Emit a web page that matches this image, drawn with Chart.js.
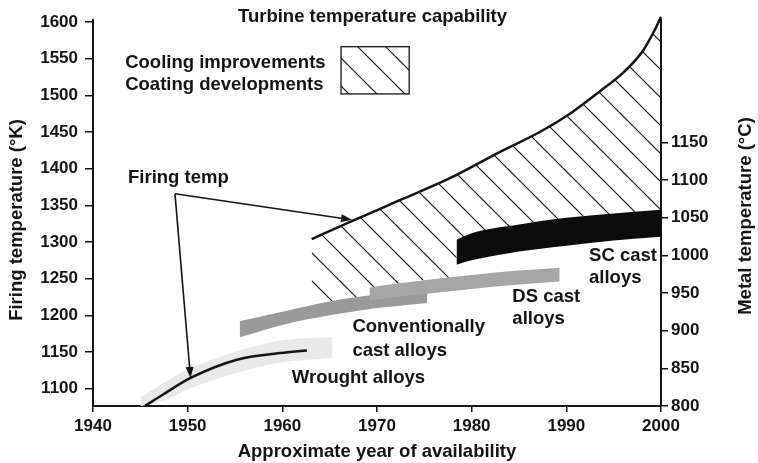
<!DOCTYPE html>
<html>
<head>
<meta charset="utf-8">
<script src="https://cdn.jsdelivr.net/npm/chart.js@4.4.1/dist/chart.umd.min.js"></script>
<style>
  html, body { margin: 0; padding: 0; background: #fff; }
  canvas { display: block; }
</style>
</head>
<body>
<canvas id="myChart" width="758" height="463"></canvas>
<script>
// axis ticks
var yearTicks = [1940, 1950, 1960, 1970, 1980, 1990, 2000];
var kelvinTicks = [1100, 1150, 1200, 1250, 1300, 1350, 1400, 1450, 1500, 1550, 1600];
var celsiusTicks = [800, 850, 900, 950, 1000, 1050, 1100, 1150];

// firing temperature line (K)
var firingYears = [1945.5, 1947.4, 1950.3, 1955.2, 1959.8, 1962.6];
var firingTemp = [1076.5, 1092, 1114.6, 1139.5, 1148.6, 1152.2];

// wrought alloys band
var wroughtYears = [1945, 1947.5, 1950, 1955, 1960, 1965.3];
var wroughtTop = [1088, 1108, 1126, 1150, 1166, 1170];
var wroughtLow = [1076, 1084, 1099, 1121, 1136, 1142];

// conventionally cast alloys band
var convYears = [1955.5, 1960, 1965, 1970, 1975.3];
var convTop = [1192, 1205, 1219, 1228, 1233];
var convLow = [1170, 1187, 1200, 1210, 1217];

// DS cast alloys band
var dsYears = [1969.2, 1972, 1975, 1980, 1985, 1989.3];
var dsTop = [1238, 1243, 1248, 1255, 1261, 1265];
var dsLow = [1220, 1225, 1229, 1236, 1242, 1246];

// SC cast alloys band
var scYears = [1978.4, 1980, 1985, 1990, 1995, 2000];
var scTop = [1303, 1312, 1324, 1333, 1339, 1344];
var scLow = [1269, 1275, 1287, 1295, 1302, 1307];

// cooling / coating capability (hatched area)
var capYears = [1963.1, 1967.1, 1972.4, 1977.7, 1983.0, 1987.2, 1990.5, 1993.5, 1996.1, 1998.0, 1999.3, 2000];
var capTop = [1304, 1327, 1357, 1387, 1423, 1450, 1476, 1505, 1532, 1559, 1588, 1607];
var capFloorYears = [1963.1, 1965, 1969.2, 1969.2, 1972, 1975, 1978.4, 1978.4, 1980, 1985, 1990, 1995, 2000];
var capFloor = [1213, 1219, 1227, 1238, 1243, 1248, 1253, 1303, 1312, 1324, 1333, 1339, 1344];

// text labels [text, year, K (baseline)]
var notes = [
  ["Cooling improvements", 1943.4, 1537],
  ["Coating developments", 1943.4, 1507],
  ["Firing temp", 1943.7, 1380.6],
  ["Conventionally", 1967.4, 1177.7],
  ["cast alloys", 1967.4, 1145],
  ["Wrought alloys", 1961.0, 1108.2],
  ["DS cast", 1984.3, 1218.5],
  ["alloys", 1984.3, 1188.6],
  ["SC cast", 1992.4, 1274.4],
  ["alloys", 1992.4, 1244.4]
];
var legendBox = [1966.2, 1566.3, 1973.4, 1501.9];
var arrowFrom = [1948.66, 1365.7];
var arrowTips = [[1967.36, 1330.2], [1950.3, 1114.6]];

var FONT = '"Liberation Sans", Arial, Helvetica, sans-serif';
var INK = "#141414";

function pts(xs, ys) {
  return xs.map(function (x, i) { return { x: x, y: ys[i] }; });
}

var ctx = document.getElementById("myChart").getContext("2d");

function makeHatch() {
  var s = 28;
  var c = document.createElement("canvas");
  c.width = s;
  c.height = s;
  var g = c.getContext("2d");
  g.strokeStyle = "#1a1a1a";
  g.lineWidth = 1.2;
  g.beginPath();
  for (var k = -1; k <= 0; k++) {
    g.moveTo(3 + k * s, 0);
    g.lineTo(3 + k * s + s, s);
  }
  g.stroke();
  return ctx.createPattern(c, "repeat");
}
var hatch = makeHatch();
var none = "rgba(0,0,0,0)";

function edge(xs, ys, order) {
  return { data: pts(xs, ys), borderColor: none, borderWidth: 0, fill: false, order: order, cubicInterpolationMode: "monotone" };
}
function band(xs, ys, color, order) {
  return { data: pts(xs, ys), borderColor: none, borderWidth: 0, backgroundColor: color, fill: "-1", order: order, cubicInterpolationMode: "monotone" };
}

function drawArrow(c, x1, y1, x2, y2) {
  var a = Math.atan2(y2 - y1, x2 - x1);
  var len = 11, w = 4;
  var bx = x2 - len * Math.cos(a), by = y2 - len * Math.sin(a);
  c.beginPath();
  c.moveTo(x1, y1);
  c.lineTo(bx, by);
  c.stroke();
  c.beginPath();
  c.moveTo(x2, y2);
  c.lineTo(bx + w * Math.sin(a), by - w * Math.cos(a));
  c.lineTo(bx - w * Math.sin(a), by + w * Math.cos(a));
  c.closePath();
  c.fill();
}

var notesPlugin = {
  id: "notes",
  afterDatasetsDraw: function (chart) {
    var c = chart.ctx, sx = chart.scales.x, sy = chart.scales.y;
    c.save();
    // arrows
    c.strokeStyle = INK;
    c.fillStyle = INK;
    c.lineWidth = 1.6;
    var fx = sx.getPixelForValue(arrowFrom[0]), fy = sy.getPixelForValue(arrowFrom[1]);
    arrowTips.forEach(function (t) {
      drawArrow(c, fx, fy, sx.getPixelForValue(t[0]), sy.getPixelForValue(t[1]));
    });
    // legend box
    var lx = sx.getPixelForValue(legendBox[0]), ly = sy.getPixelForValue(legendBox[1]);
    var lw = sx.getPixelForValue(legendBox[2]) - lx, lh = sy.getPixelForValue(legendBox[3]) - ly;
    c.fillStyle = hatch;
    c.fillRect(lx, ly, lw, lh);
    c.lineWidth = 1.3;
    c.strokeRect(lx, ly, lw, lh);
    // labels
    c.fillStyle = INK;
    c.font = "bold 18.5px " + FONT;
    c.textAlign = "left";
    c.textBaseline = "alphabetic";
    notes.forEach(function (n) {
      c.fillText(n[0], sx.getPixelForValue(n[1]), sy.getPixelForValue(n[2]));
    });
    c.restore();
  },
  afterDraw: function (chart) {
    var c = chart.ctx;
    c.save();
    c.fillStyle = INK;
    c.font = "bold 18.5px " + FONT;
    c.textAlign = "center";
    c.textBaseline = "alphabetic";
    c.fillText("Turbine temperature capability", 372.5, 22);
    c.translate(21.5, 220);
    c.rotate(-Math.PI / 2);
    c.fillText("Firing temperature (°K)", 0, 0);
    c.restore();
    c.save();
    c.fillStyle = INK;
    c.font = "bold 18.5px " + FONT;
    c.textAlign = "center";
    c.textBaseline = "alphabetic";
    c.translate(751, 216);
    c.rotate(-Math.PI / 2);
    c.fillText("Metal temperature (°C)", 0, 0);
    c.restore();
  }
};

function setTicks(list) {
  return function (scale) {
    scale.ticks = list.map(function (v) { return { value: v }; });
  };
}

var tickFont = { family: FONT, size: 17, weight: "bold" };

var chart = new Chart(ctx, {
  type: "line",
  data: {
    datasets: [
      { data: pts(firingYears, firingTemp), borderColor: INK, borderWidth: 2.5, fill: false, order: 0, cubicInterpolationMode: "monotone" },
      edge(scYears, scLow, 1),
      band(scYears, scTop, "#0c0c0c", 1),
      edge(dsYears, dsLow, 2),
      band(dsYears, dsTop, "#a6a6a6", 2),
      edge(convYears, convLow, 3),
      band(convYears, convTop, "#9a9a9a", 3),
      { data: pts(capFloorYears, capFloor), borderColor: none, borderWidth: 0, fill: false, order: 4, tension: 0 },
      { data: pts(capYears, capTop), borderColor: INK, borderWidth: 2.5, backgroundColor: hatch, fill: "-1", order: 4, clip: false, cubicInterpolationMode: "monotone" },
      edge(wroughtYears, wroughtLow, 5),
      band(wroughtYears, wroughtTop, "#e9e9e9", 5)
    ]
  },
  options: {
    responsive: false,
    animation: false,
    layout: { padding: { top: 20, left: 0, right: 0, bottom: 0 } },
    elements: { point: { radius: 0 } },
    plugins: {
      legend: { display: false },
      tooltip: { enabled: false },
      filler: { propagate: false }
    },
    scales: {
      x: {
        type: "linear",
        min: 1940,
        max: 2000,
        afterBuildTicks: setTicks(yearTicks),
        afterFit: function (s) { s.height = 57; },
        border: { display: true, color: INK, width: 2 },
        grid: { drawOnChartArea: false, drawTicks: true, tickLength: 6, color: INK, lineWidth: 1.5 },
        ticks: { font: tickFont, color: INK, padding: 4, maxRotation: 0, callback: function (v) { return String(v); } },
        title: { display: true, text: "Approximate year of availability", color: INK, font: { family: FONT, size: 18.5, weight: "bold" }, padding: { top: 0, bottom: 0 } }
      },
      y: {
        position: "left",
        min: 1076.4,
        max: 1602.7,
        afterBuildTicks: setTicks(kelvinTicks),
        afterFit: function (s) { s.width = 93; },
        border: { display: true, color: INK, width: 2 },
        grid: { drawOnChartArea: false, drawTicks: true, tickLength: 8, color: INK, lineWidth: 1.5 },
        ticks: { font: tickFont, color: INK, padding: 7, callback: function (v) { return String(v); } }
      },
      y2: {
        position: "right",
        display: true,
        min: 800,
        max: 1312.7,
        afterBuildTicks: setTicks(celsiusTicks),
        afterFit: function (s) { s.width = 97; },
        border: { display: true, color: INK, width: 2 },
        grid: { drawOnChartArea: false, drawTicks: true, tickLength: 7, color: INK, lineWidth: 1.5 },
        ticks: { font: tickFont, color: INK, padding: 3, callback: function (v) { return String(v); } }
      }
    }
  },
  plugins: [notesPlugin]
});
</script>
</body>
</html>
